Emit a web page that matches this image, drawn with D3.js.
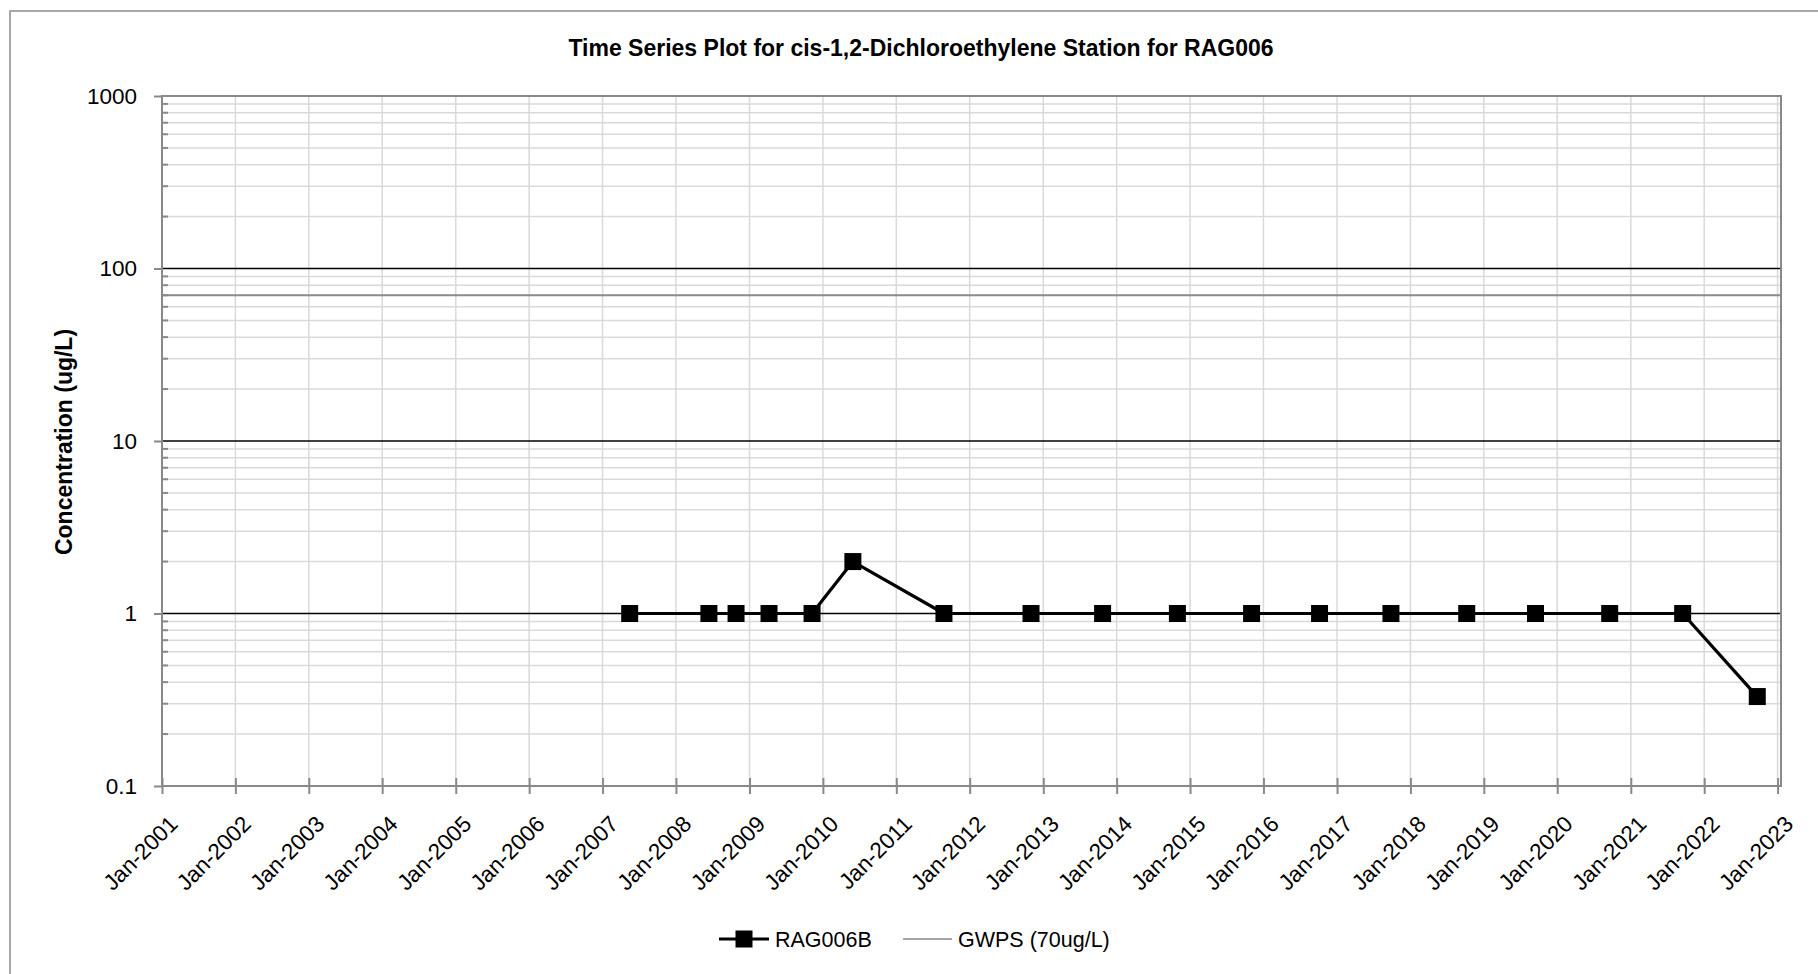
<!DOCTYPE html>
<html>
<head>
<meta charset="utf-8">
<script src="https://cdn.jsdelivr.net/npm/d3@7"></script>
<style>
  html, body { margin: 0; padding: 0; background: #fff; }
  svg { display: block; font-family: "Liberation Sans", Arial, sans-serif; }
</style>
</head>
<body>
<svg id="chart" width="1818" height="974"></svg>
<script>
// RAG006B samples
const sampleDates = [
  '2007-05-16', '2008-06-13', '2008-10-26', '2009-04-08', '2009-11-08',
  '2010-05-30', '2011-08-26', '2012-11-01', '2013-10-23', '2014-10-30',
  '2015-11-03', '2016-10-06', '2017-09-26', '2018-10-08', '2019-09-15',
  '2020-09-18', '2021-09-16', '2022-09-22'
];
const sampleValues = [1, 1, 1, 1, 1, 2, 1, 1, 1, 1, 1, 1, 1, 1, 1, 1, 1, 0.33];

const gwpsValue = 70;
const yTickValues = [0.1, 1, 10, 100, 1000];
const xTickYears = d3.range(2001, 2024);

const seriesName = 'RAG006B';
const gwpsName = 'GWPS (70ug/L)';
const titleText = 'Time Series Plot for cis-1,2-Dichloroethylene Station for RAG006';
const yLabelText = 'Concentration (ug/L)';

const svg = d3.select('#chart');
const plot = { left: 162, top: 96, right: 1781, bottom: 786 };
const tickFont = 22.5;

const parse = d3.timeParse('%Y-%m-%d');
const data = sampleDates.map((d, i) => ({ date: parse(d), value: sampleValues[i] }));

const x = d3.scaleTime()
  .domain([new Date(2001, 0, 1), new Date(2023, 0, 18)])
  .range([plot.left, plot.right]);

const y = d3.scaleLog()
  .domain([0.1, 1000])
  .range([plot.bottom, plot.top]);

// outer chart border (runs off the right and bottom of the page)
svg.append('rect')
  .attr('x', 10).attr('y', 11)
  .attr('width', 1900).attr('height', 1000)
  .attr('fill', '#fff')
  .attr('stroke', '#8c8c8c')
  .attr('stroke-width', 1.5);

// minor horizontal gridlines 2..9 in every decade
const minorVals = [];
yTickValues.slice(0, -1).forEach(d => {
  for (let k = 2; k <= 9; k++) minorVals.push(d * k);
});

svg.append('g')
  .selectAll('line')
  .data(minorVals)
  .join('line')
  .attr('x1', plot.left).attr('x2', plot.right)
  .attr('y1', d => y(d)).attr('y2', d => y(d))
  .attr('stroke', '#d9d9d9')
  .attr('stroke-width', 1.5);

// vertical gridlines at each January
const xTickDates = xTickYears.map(yr => new Date(yr, 0, 1));
svg.append('g')
  .selectAll('line')
  .data(xTickDates)
  .join('line')
  .attr('x1', d => x(d)).attr('x2', d => x(d))
  .attr('y1', plot.top).attr('y2', plot.bottom)
  .attr('stroke', '#d9d9d9')
  .attr('stroke-width', 1.5);

// major horizontal gridlines (black)
svg.append('g')
  .selectAll('line')
  .data(yTickValues.slice(1, -1))
  .join('line')
  .attr('x1', plot.left).attr('x2', plot.right)
  .attr('y1', d => y(d)).attr('y2', d => y(d))
  .attr('stroke', '#000')
  .attr('stroke-width', 1.7);

// GWPS reference line
svg.append('line')
  .attr('x1', plot.left).attr('x2', plot.right)
  .attr('y1', y(gwpsValue)).attr('y2', y(gwpsValue))
  .attr('stroke', '#8c8c8c')
  .attr('stroke-width', 2);

// plot area frame
svg.append('rect')
  .attr('x', plot.left).attr('y', plot.top)
  .attr('width', plot.right - plot.left)
  .attr('height', plot.bottom - plot.top)
  .attr('fill', 'none')
  .attr('stroke', '#898989')
  .attr('stroke-width', 2);

// y axis: major ticks outside, minor ticks inside
const yAxis = d3.axisLeft(y)
  .tickValues(yTickValues)
  .tickFormat(d => String(d))
  .tickSize(8)
  .tickPadding(17);

const yAxisG = svg.append('g')
  .attr('transform', `translate(${plot.left},0)`)
  .call(yAxis);
yAxisG.select('.domain').remove();
yAxisG.selectAll('.tick line').attr('stroke', '#898989').attr('stroke-width', 2);
yAxisG.selectAll('.tick text')
  .attr('font-family', '"Liberation Sans", Arial, sans-serif')
  .attr('font-size', tickFont)
  .attr('fill', '#000');

svg.append('g')
  .selectAll('line')
  .data(minorVals)
  .join('line')
  .attr('x1', plot.left).attr('x2', plot.left + 6)
  .attr('y1', d => y(d)).attr('y2', d => y(d))
  .attr('stroke', '#898989')
  .attr('stroke-width', 2);

// x axis: cross ticks, labels rotated -45deg
const xAxis = d3.axisBottom(x)
  .tickValues(xTickDates)
  .tickFormat(d3.timeFormat('%b-%Y'))
  .tickSizeInner(8)
  .tickSizeOuter(0);

const xAxisG = svg.append('g')
  .attr('transform', `translate(0,${plot.bottom})`)
  .call(xAxis);
xAxisG.select('.domain').remove();
xAxisG.selectAll('.tick line')
  .attr('y1', -8)
  .attr('stroke', '#898989')
  .attr('stroke-width', 2);
xAxisG.selectAll('.tick text')
  .attr('font-family', '"Liberation Sans", Arial, sans-serif')
  .attr('font-size', tickFont)
  .attr('fill', '#000')
  .attr('text-anchor', 'end')
  .attr('dy', null)
  .attr('y', null)
  .attr('transform', 'translate(16.5,39.5) rotate(-45)');

// RAG006B series
const line = d3.line()
  .x(d => x(d.date))
  .y(d => y(d.value));

svg.append('path')
  .datum(data)
  .attr('d', line)
  .attr('fill', 'none')
  .attr('stroke', '#000')
  .attr('stroke-width', 3.2)
  .attr('stroke-linejoin', 'round');

const markerSize = 17;
svg.append('g')
  .selectAll('rect')
  .data(data)
  .join('rect')
  .attr('x', d => x(d.date) - markerSize / 2)
  .attr('y', d => y(d.value) - markerSize / 2)
  .attr('width', markerSize)
  .attr('height', markerSize)
  .attr('fill', '#000');

// title
svg.append('text')
  .attr('x', 921).attr('y', 56)
  .attr('text-anchor', 'middle')
  .attr('font-size', 23)
  .attr('font-weight', 'bold')
  .attr('fill', '#000')
  .text(titleText);

// y axis title
svg.append('text')
  .attr('transform', 'translate(71.5,442) rotate(-90)')
  .attr('text-anchor', 'middle')
  .attr('font-size', 23)
  .attr('font-weight', 'bold')
  .attr('fill', '#000')
  .text(yLabelText);

// legend
const legendY = 939;
const legend = svg.append('g');

legend.append('line')
  .attr('x1', 719).attr('x2', 769)
  .attr('y1', legendY).attr('y2', legendY)
  .attr('stroke', '#000').attr('stroke-width', 3.2);
legend.append('rect')
  .attr('x', 744 - markerSize / 2).attr('y', legendY - markerSize / 2)
  .attr('width', markerSize).attr('height', markerSize)
  .attr('fill', '#000');
legend.append('text')
  .attr('x', 775).attr('y', legendY).attr('dy', '0.36em')
  .attr('font-size', 21.5).attr('fill', '#000')
  .text(seriesName);

legend.append('line')
  .attr('x1', 903).attr('x2', 952)
  .attr('y1', legendY).attr('y2', legendY)
  .attr('stroke', '#a6a6a6').attr('stroke-width', 2);
legend.append('text')
  .attr('x', 958).attr('y', legendY).attr('dy', '0.36em')
  .attr('font-size', 21.5).attr('fill', '#000')
  .text(gwpsName);
</script>
</body>
</html>
